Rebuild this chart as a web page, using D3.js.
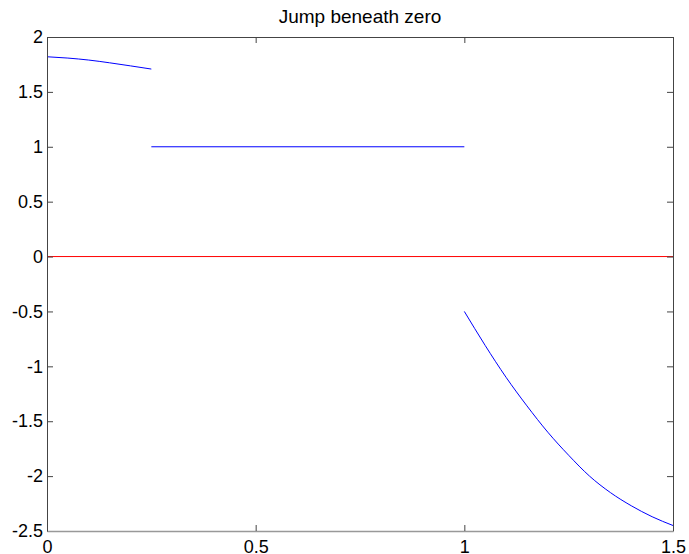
<!DOCTYPE html>
<html>
<head>
<meta charset="utf-8">
<script src="https://d3js.org/d3.v7.min.js"></script>
<style>
  body { margin: 0; background: #fff; }
  text { font-family: "Liberation Sans", Arial, Helvetica, sans-serif; }
</style>
</head>
<body>
<svg id="chart"></svg>
<script>
// Piecewise function
var seg1X = [0, 0.05, 0.10, 0.15, 0.20, 0.25];
var seg1Y = [1.820, 1.808, 1.790, 1.765, 1.737, 1.708];
var seg2X = [0.25, 1.0];
var seg2Y = [1, 1];
var seg3X = [1.00, 1.05, 1.10, 1.15, 1.20, 1.25, 1.30, 1.35, 1.40, 1.45, 1.50];
var seg3Y = [-0.50, -0.81, -1.10, -1.36, -1.60, -1.81, -2.00, -2.15, -2.27, -2.37, -2.45];
var zeroX = [0, 1.5];
var zeroY = [0, 0];
var xTicks = [0, 0.5, 1, 1.5];
var yTicks = [2, 1.5, 1, 0.5, 0, -0.5, -1, -1.5, -2, -2.5];
var title = "Jump beneath zero";

var W = 689, H = 554;
var margin = {top: 37, right: 16, bottom: 23, left: 47};
var width = W - margin.left - margin.right;
var height = H - margin.top - margin.bottom;

var svg = d3.select("#chart")
    .attr("width", W)
    .attr("height", H)
  .append("g")
    .attr("transform", "translate(" + margin.left + "," + margin.top + ")");

var x = d3.scaleLinear().domain([0, 1.5]).range([0, width]);
var y = d3.scaleLinear().domain([-2.5, 2]).range([height, 0]);

var fmt = function(d) { return String(d); };

function zip(xs, ys) { return xs.map(function(v, i) { return [v, ys[i]]; }); }

var line = d3.line()
    .curve(d3.curveMonotoneX)
    .x(function(d) { return x(d[0]); })
    .y(function(d) { return y(d[1]); });

// red zero line first, blue curves on top
svg.append("path")
    .datum(zip(zeroX, zeroY))
    .attr("d", line)
    .attr("fill", "none")
    .attr("stroke", "#ff0000")
    .attr("stroke-width", 1);

[zip(seg1X, seg1Y), zip(seg2X, seg2Y), zip(seg3X, seg3Y)].forEach(function(seg) {
  svg.append("path")
      .datum(seg)
      .attr("d", line)
      .attr("fill", "none")
      .attr("stroke", "#0000ff")
      .attr("stroke-width", 1);
});

// axes, ticks pointing inward like matlab
var yAxis = svg.append("g")
    .call(d3.axisLeft(y).tickValues(yTicks).tickFormat(fmt).tickSizeInner(-6).tickSizeOuter(0).tickPadding(4));
var yAxisR = svg.append("g")
    .attr("transform", "translate(" + width + ",0)")
    .call(d3.axisRight(y).tickValues(yTicks).tickFormat("").tickSizeInner(-6).tickSizeOuter(0));
var xAxis = svg.append("g")
    .attr("transform", "translate(0," + height + ")")
    .call(d3.axisBottom(x).tickValues(xTicks).tickFormat(fmt).tickSizeInner(-6).tickSizeOuter(0).tickPadding(9));
var xAxisT = svg.append("g")
    .call(d3.axisTop(x).tickValues(xTicks).tickFormat("").tickSizeInner(-6).tickSizeOuter(0));

[yAxis, yAxisR, xAxis, xAxisT].forEach(function(a) {
  a.selectAll(".domain").attr("stroke", "#444");
  a.selectAll(".tick line").attr("stroke", "#444");
  a.selectAll("text")
      .attr("font-size", "18px")
      .attr("fill", "#000");
});
xAxis.select(".domain").attr("stroke", "#999").attr("stroke-width", 1.5);

svg.append("text")
    .attr("x", width / 2)
    .attr("y", -14)
    .attr("text-anchor", "middle")
    .attr("font-size", "19px")
    .attr("fill", "#000")
    .text(title);
</script>
</body>
</html>
